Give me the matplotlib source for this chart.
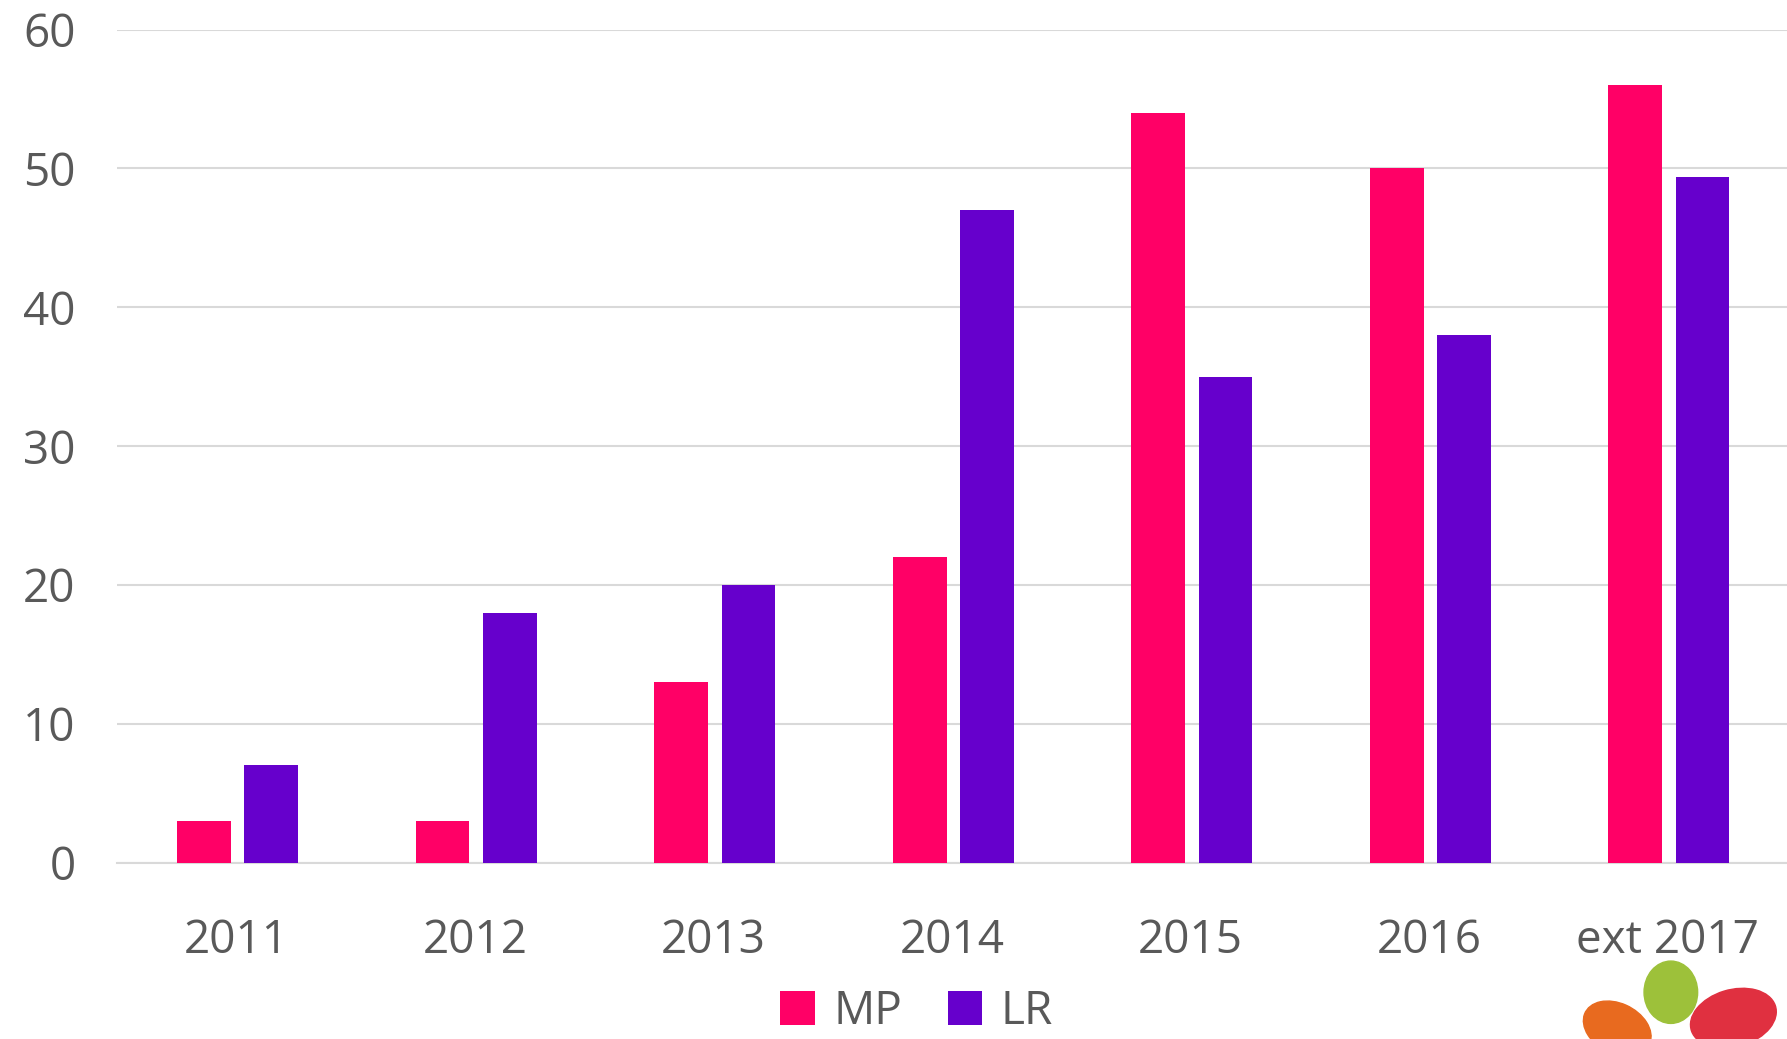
import numpy as np
import matplotlib.pyplot as plt
from matplotlib.patches import Ellipse

plt.rcParams.update({
    "figure.facecolor": "white", "axes.facecolor": "white",
    "font.family": ["Open Sans", "DejaVu Sans"],
})
PINK, PURPLE, GRID, TXT = "#FF0066", "#6600CC", "#D9D9D9", "#595959"

years = ["2011", "2012", "2013", "2014", "2015", "2016", "ext 2017"]
mp = [3, 3, 13, 22, 54, 50, 56]
lr = [7, 18, 20, 47, 35, 38, 49.4]

fig = plt.figure(figsize=(17.87, 10.39), dpi=100)
ax = fig.add_axes([0.0656, 0.1697, 0.9344, 0.8018])

x = np.arange(len(years))
w, off = 0.225, 0.141
ax.bar(x - off + 0.005, mp, w, color=PINK, label="MP", zorder=3)
ax.bar(x + off + 0.005, lr, w, color=PURPLE, label="LR", zorder=3)

ax.set_xlim(-0.5, len(years) - 0.5)
ax.set_ylim(0, 60)
ax.set_yticks(range(0, 61, 10))
ax.set_xticks(x)
ax.set_xticklabels(years)
ax.yaxis.grid(True, color=GRID, lw=1.5, zorder=0)
for s in ["top", "right", "left"]:
    ax.spines[s].set_visible(False)
ax.spines["bottom"].set_color(GRID)
ax.spines["bottom"].set_linewidth(1.5)
ax.tick_params(length=0, labelsize=33, colors=TXT)
ax.tick_params(axis="y", pad=30)
ax.tick_params(axis="x", pad=40)

leg = fig.legend(loc="center", bbox_to_anchor=(0.513, 0.026), ncol=2, frameon=False,
                 fontsize=33, labelcolor=TXT, handlelength=0.75, handleheight=0.75,
                 handletextpad=0.4, columnspacing=1.0, borderpad=0.1)

# partial logo in the corner
for (cx, cy, ew, eh, ang, col) in [(0.905, 0.01, 0.035, 0.055, 20, "#E86A1F"),
                                    (0.935, 0.045, 0.03, 0.06, 0, "#9DC13A"),
                                    (0.97, 0.02, 0.045, 0.06, -25, "#E03040")]:
    fig.patches.append(Ellipse((cx, cy), ew, eh, angle=ang, color=col,
                               transform=fig.transFigure, zorder=5))

fig.savefig("out.png", dpi=100)
